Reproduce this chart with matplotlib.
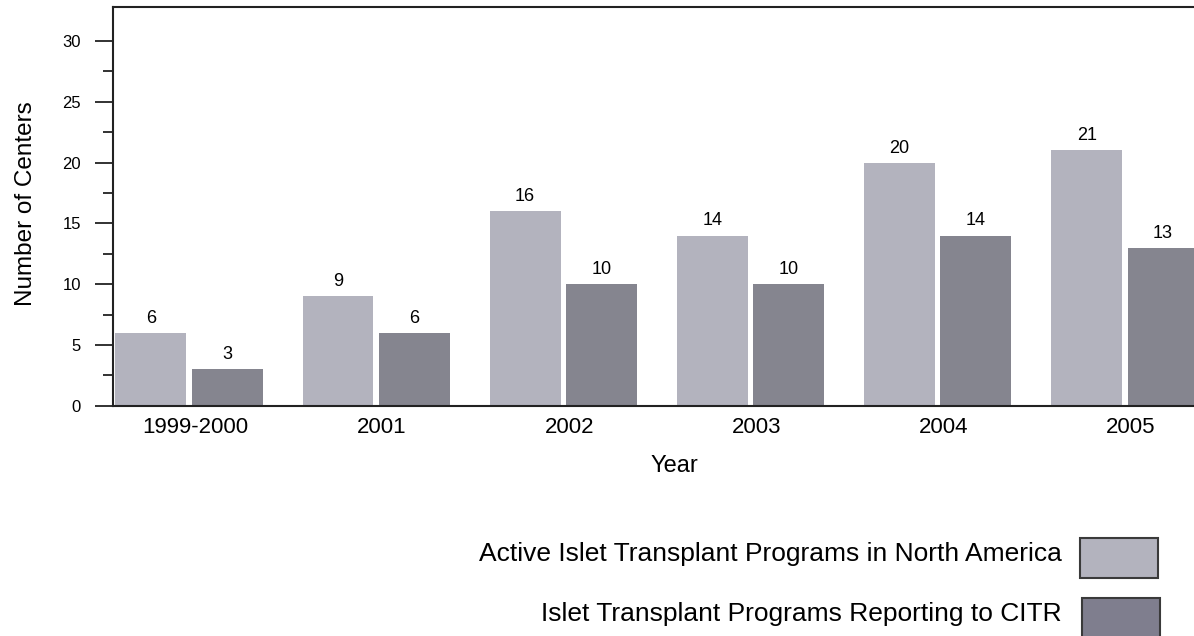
import numpy as np
import matplotlib
matplotlib.use("Agg")
import matplotlib.pyplot as plt
from matplotlib.patches import Rectangle

plt.rcParams['font.family'] = ['Liberation Sans', 'DejaVu Sans']

# data
years = ['1999-2000', '2001', '2002', '2003', '2004', '2005']
active = [6, 9, 16, 14, 20, 21]
reporting = [3, 6, 10, 10, 14, 13]
legend_labels = ['Active Islet Transplant Programs in North America',
                 'Islet Transplant Programs Reporting to CITR']

light = '#b3b3be'
dark = '#85858f'

fig = plt.figure(figsize=(11.94, 6.36), dpi=100)
ax = fig.add_axes([113 / 1194, 1 - 405.7 / 636, 1 - 113 / 1194, (405.7 - 7) / 636])

x = np.arange(len(years))
w = 0.379
off = 0.204
ax.bar(x - off, active, w, color=light, edgecolor='none')
ax.bar(x + off, reporting, w, color=dark, edgecolor='none')

for xi, v in zip(x, active):
    ax.text(xi - off, v + 0.5, str(v), ha='center', va='bottom', fontsize=13)
for xi, v in zip(x, reporting):
    ax.text(xi + off, v + 0.5, str(v), ha='center', va='bottom', fontsize=13)

ax.set_xlim(-0.406, 5.369)
ax.set_ylim(0, 32.8)

ax.set_yticks(np.arange(0, 31, 5))
ax.set_yticks(np.arange(2.5, 28, 5), minor=True)
ax.tick_params(axis='y', which='major', length=13, width=1.3, labelsize=12, pad=10, color='#222222')
ax.tick_params(axis='y', which='minor', length=7, width=1.3, color='#222222')

ax.set_xticks(x + 0.032)
ax.set_xticklabels(years)
ax.tick_params(axis='x', length=0, labelsize=16, pad=8)

ax.spines['right'].set_visible(False)
for s in ['left', 'top', 'bottom']:
    ax.spines[s].set_linewidth(1.5)
    ax.spines[s].set_color('#222222')

ax.set_xlabel('Year', fontsize=17)
ax.xaxis.set_label_coords(0.519, -0.1226)
ax.set_ylabel('Number of Centers', fontsize=17.5)
ax.yaxis.set_label_coords(-0.0703, 0.507)

# legend drawn by hand at the bottom right
W, H = 1194, 636
boxes = [(1080, 538, light), (1082, 598, '#7f7e8e')]
for (bx, by, c), lab in zip(boxes, legend_labels):
    fig.patches.append(Rectangle((bx / W, 1 - (by + 40) / H), 78 / W, 40 / H,
                                 transform=fig.transFigure, facecolor=c,
                                 edgecolor='#3a3a3a', linewidth=1.5))
    fig.text(1062 / W, 1 - (by + 16) / H, lab, ha='right', va='center', fontsize=19)

fig.savefig('out.png', dpi=100)
